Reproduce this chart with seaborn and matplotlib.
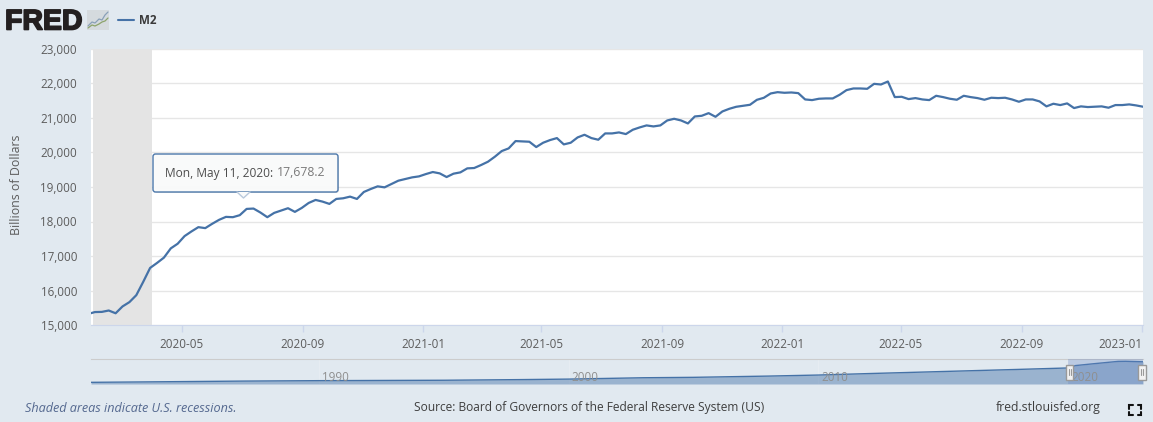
import pandas as pd
import numpy as np
import matplotlib
matplotlib.use("Agg")
import matplotlib.pyplot as plt
import matplotlib.patheffects as pe
from matplotlib.patches import FancyBboxPatch, Polygon, Rectangle
from matplotlib.ticker import FuncFormatter
import seaborn as sns

START_DATE = "2020-01-27"
m2_2020 = [15320,15375,15380,15420,15340,15538,15663,15865,16250,16654,
           16798,16952,17221,17356,17577,17712,17836,17808,17933,18048,
           18134,18125,18183,18365,18375,18260,18125,18250,18317,18385,
           18279,18394,18538,18625,18577,18510,18654,18673,18721,18654,
           18856,18942,19019,18990,19087,19183,19231,19279,19308,19375]
m2_2021 = [19434,19395,19289,19386,19424,19540,19550,19637,19733,19878,
           20042,20119,20331,20322,20312,20158,20283,20360,20418,20235,
           20283,20437,20514,20418,20370,20553,20553,20582,20534,20659,
           20727,20785,20756,20785,20929,20977,20929,20842,21045,21064,
           21141,21035,21190,21267,21325,21354,21383,21527,21585,21711,21749]
m2_2022 = [21731,21740,21721,21538,21519,21558,21567,21567,21673,21808,
           21856,21856,21846,21990,21971,22058,21606,21615,21548,21577,
           21538,21519,21644,21606,21558,21529,21644,21606,21577,21529,
           21587,21577,21587,21538,21471,21538,21538,21481,21337,21413,
           21375,21423,21288,21337,21317,21327,21337,21298,21375,21375,
           21394,21365,21327]
m2_values = m2_2020 + m2_2021 + m2_2022

x_ticks = ["2020-05-01","2020-09-01","2021-01-01","2021-05-01","2021-09-01",
           "2022-01-01","2022-05-01","2022-09-01","2023-01-01"]
x_tick_labels = ["2020-05","2020-09","2021-01","2021-05","2021-09",
                 "2022-01","2022-05","2022-09","2023-01"]
y_ticks = [15000,16000,17000,18000,19000,20000,21000,22000,23000]
recession = ("2020-02-01","2020-04-01")

nav_years = [1980.87,1983,1985,1987,1990,1993,1995,1998,2000,2003,2005,2008,
             2010,2012,2015,2018,2020,2020.3,2021,2022,2022.3,2023]
nav_values = [1600,2000,2400,2800,3200,3450,3600,4200,4700,6000,6400,7600,
              8600,10000,12000,14000,15400,17700,19400,21700,21800,21330]
nav_ticks = [1990,2000,2010,2020]

W, H = 1153, 422
BG = "#e1e9f0"
BLUE = "#4572a7"

sns.set_style("white")
plt.rcParams["font.family"] = ["Open Sans", "DejaVu Sans"]

def px_axes(fig, x0, y0, x1, y1, **kw):
    return fig.add_axes([x0/W, 1-y1/H, (x1-x0)/W, (y1-y0)/H], **kw)

fig = plt.figure(figsize=(W/100, H/100), dpi=100, facecolor=BG)

# main chart
df = pd.DataFrame({"date": pd.date_range(START_DATE, periods=len(m2_values), freq="7D"),
                   "M2": m2_values})
ax = px_axes(fig, 91, 49, 1143, 325)
ax.set_facecolor("white")
ax.axvspan(pd.Timestamp(recession[0]), pd.Timestamp(recession[1]), color="#e4e4e4", lw=0, zorder=1)
sns.lineplot(data=df, x="date", y="M2", ax=ax, color=BLUE, lw=1.6, zorder=3, errorbar=None)
ax.set_xlim(pd.Timestamp("2020-01-30"), pd.Timestamp("2023-01-02"))
ax.set_ylim(15000, 23000)
ax.set_yticks(y_ticks)
ax.yaxis.set_major_formatter(FuncFormatter(lambda v, _: f"{int(v):,}"))
ax.set_xticks([pd.Timestamp(t) for t in x_ticks])
ax.set_xticklabels(x_tick_labels)
ax.get_xticklabels()[-1].set_ha("right")
ax.get_xticklabels()[-1].set_x(pd.Timestamp("2023-01-02"))
ax.grid(axis="y", color="#e6e6e6", lw=1.0, zorder=2)
ax.grid(axis="x", visible=False)
ax.tick_params(axis="y", length=0, pad=10, labelsize=8.4, labelcolor="#5c5c5c")
ax.tick_params(axis="x", length=5, width=1, color="#ccd6eb", pad=4, labelsize=8.4, labelcolor="#5c5c5c", bottom=True)
for s in ["top", "right", "left"]:
    ax.spines[s].set_visible(False)
ax.spines["bottom"].set_color("#ccd6eb")
ax.set_xlabel("")
ax.set_ylabel("")

# navigator
nav = px_axes(fig, 91, 359, 1143, 384)
nav.set_facecolor(BG)
navdf = pd.DataFrame({"year": nav_years, "M2": nav_values})
nav.fill_between(nav_years, nav_values, 0, color=BLUE, alpha=0.45, lw=0, zorder=2)
sns.lineplot(data=navdf, x="year", y="M2", ax=nav, color=BLUE, lw=1.0, zorder=3, errorbar=None)
nav.set_xlim(1980.87, 2023.0)
nav.set_ylim(0, 24000)
nav.set_xticks([]); nav.set_yticks([])
nav.set_xlabel(""); nav.set_ylabel("")
for s in ["left", "right", "bottom"]:
    nav.spines[s].set_visible(False)
nav.spines["top"].set_color("#cccccc")
nav.axvspan(2020.0, 2023.0, color="#6685c2", alpha=0.3, lw=0, zorder=3.5)
for t in nav_ticks:
    nav.axvline(t, color="#e6ecf2", lw=1, zorder=1)
    nav.annotate(str(t), (t, 0), xytext=(2.2, 0), textcoords="offset points", ha="left", va="bottom",
                 fontsize=8.4, color="#8f8f8f", zorder=4)

# overlay in pixel coordinates for page furniture
ov = fig.add_axes([0, 0, 1, 1], facecolor="none")
ov.set_xlim(0, W); ov.set_ylim(H, 0); ov.axis("off")

# navigator handles
for hx in (1069.5, 1142):
    ov.add_patch(Rectangle((hx-3.8, 364.5), 7.6, 15, fc="#f2f2f2", ec="#999999", lw=1, zorder=6))
    ov.plot([hx-1, hx-1], [369, 375], color="#999999", lw=0.8, zorder=7)
    ov.plot([hx+1, hx+1], [369, 375], color="#999999", lw=0.8, zorder=7)

# logo
ov.text(5, 29.5, "FRED", fontsize=20.5, fontweight="bold", color="#231f20",
        family=["Liberation Sans"], ha="left", va="baseline",
        path_effects=[pe.withStroke(linewidth=1.2, foreground="#231f20")])
ov.add_patch(Rectangle((87, 10), 22, 20, fc="#d5dade", ec="none", zorder=2))
icon_x = [88, 92, 95, 99, 102, 105, 108]
icon_a = [26, 22, 23, 19, 20, 15, 12]
icon_b = [28, 25, 26, 24, 22, 21, 18]
ov.plot(icon_x, icon_a, color="#8aa0b8", lw=0.9, zorder=3)
ov.plot(icon_x, icon_b, color="#8ca36b", lw=0.9, zorder=3)

# legend
ov.plot([118, 134], [19.5, 19.5], color=BLUE, lw=1.5)
ov.text(139, 20, "M2", fontsize=8.4, fontweight="bold", color="#3a3a3a", ha="left", va="center")

# y axis title
ov.text(17, 185, "Billions of Dollars", rotation=90, fontsize=8.9, color="#5c5c5c", ha="center", va="center")

# tooltip
ov.add_patch(FancyBboxPatch((155, 156), 184, 37, boxstyle="round,pad=0,rounding_size=2.5",
                            fc="#000000", ec="none", alpha=0.10, zorder=8))
ov.add_patch(FancyBboxPatch((153, 154), 185, 38, boxstyle="round,pad=0,rounding_size=2.5",
                            fc="#fafbfb", ec=BLUE, lw=1.0, alpha=0.96, zorder=9))
ov.add_patch(Polygon([(237, 192), (243.5, 198), (250, 192)], closed=True, fc="#fafbfb", ec="none", zorder=10))
ov.plot([237, 243.5, 250], [192, 198, 192], color="#b9c9dc", lw=1.0, zorder=10)
ov.text(165, 173, "Mon, May 11, 2020:", fontsize=8.6, color="#4d4d4d", fontweight="medium",
        ha="left", va="center", zorder=11)
ov.text(277, 173, "17,678.2", fontsize=8.8, color="#7a7a7a", ha="left", va="center", zorder=11)

# footer
ov.text(25, 408, "Shaded areas indicate U.S. recessions.", fontsize=9.1, style="italic",
        color="#54688f", ha="left", va="center")
ov.text(414, 408, "Source: Board of Governors of the Federal Reserve System (US)", fontsize=8.67,
        color="#3f3f3f", ha="left", va="center")
ov.text(996, 408, "fred.stlouisfed.org", fontsize=8.8, color="#3f3f3f", ha="left", va="center")

# fullscreen icon
for cx, cy, dx, dy in [(1129, 405, 1, 1), (1141, 405, -1, 1), (1129, 415, 1, -1), (1141, 415, -1, -1)]:
    ov.plot([cx, cx, cx + 3.5*dx], [cy + 3.5*dy, cy, cy], color="#111111", lw=1.5, solid_joinstyle="miter")

fig.savefig("out.png", dpi=100, facecolor=BG)
